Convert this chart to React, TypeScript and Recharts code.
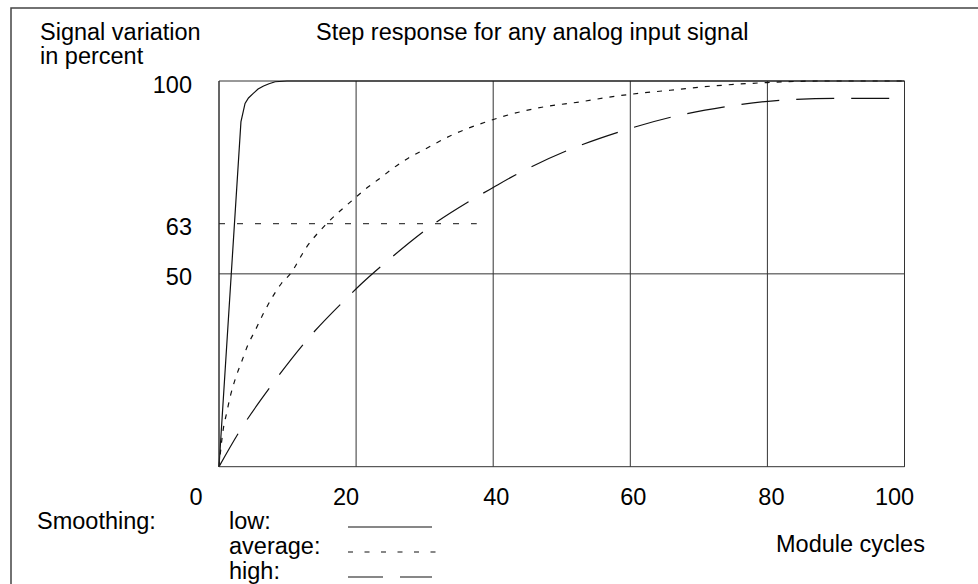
import { LineChart, Line, XAxis, YAxis, CartesianGrid, ReferenceLine } from 'recharts';

// step response readings (x = module cycles, y = percent)
const lowX = [0, 3.2, 3.8, 4.3, 5, 5.7, 6.5, 7.3, 8.2, 9.9, 100];
const lowY = [0, 89.4, 94.2, 95.6, 96.8, 97.9, 98.7, 99.3, 99.8, 100, 100];

const avgX = [0, 0.6, 1.1, 1.7, 2.4, 3.3, 4.2, 5.3, 6.5, 7.7, 9.1, 10.4, 12.8, 15.7, 19.6, 21.3, 23.5, 25.4, 27.6, 29.8, 34, 38.8, 43.7, 47.1, 52.7, 58, 62.9, 65.8, 72, 80, 88, 100];
const avgY = [0, 9.5, 13.8, 18.6, 22.9, 27.2, 31.5, 35.4, 39.8, 43.7, 47.5, 50, 57, 63, 69.3, 71.9, 74.8, 77.4, 80, 82.1, 86, 89.3, 91.9, 93.2, 94.6, 96.1, 97.1, 97.6, 98.7, 99.6, 100, 100];

const highX = [0, 2.9, 7.7, 12.9, 18.8, 20.7, 25, 31.8, 36.4, 40, 43.3, 50.7, 58.2, 65.9, 73.8, 81.8, 90, 100];
const highY = [0, 8.9, 21.2, 33, 44, 47.3, 54, 63.5, 68.7, 72.4, 75.7, 81.9, 86.7, 90.6, 93.3, 95, 95.5, 95.5];

// 63 % guide runs from 0 to about 37.6 cycles
const guideX = [0, 37.6];
const guideY = [63, 63];

const xTicks = [0, 20, 40, 60, 80, 100];
const yTicks = [50, 63, 100];

const legendLabels = ['low:', 'average:', 'high:'];

const toPoints = (xs: number[], ys: number[]) => xs.map((x, i) => ({ x, y: ys[i] }));

const lowData = toPoints(lowX, lowY);
const avgData = toPoints(avgX, avgY);
const highData = toPoints(highX, highY);
const guideData = toPoints(guideX, guideY);

const FONT = '"Liberation Sans", Arial, sans-serif';
const FS = 23.5;
const INK = '#111';
const GRID = '#333';

// the scanned labels sit a little off their grid lines
const xLabelNudge: Record<number, number> = { 0: -23, 20: -10, 40: 3, 60: 3, 80: 4, 100: -10 };

function XTick(props: any) {
  const { x, y, payload } = props;
  const v = payload.value as number;
  return (
    <text x={x + (xLabelNudge[v] ?? 0)} y={y + 38} textAnchor="middle" fontSize={FS} fontFamily={FONT} fill="#000">
      {v}
    </text>
  );
}

function YTick(props: any) {
  const { x, y, payload } = props;
  return (
    <text x={x} y={y + 11.5} textAnchor="end" fontSize={FS} fontFamily={FONT} fill="#000">
      {payload.value}
    </text>
  );
}

const legendDash = ['', '5 11.5', '35 17'];

export default function App() {
  return (
    <div
      style={{
        position: 'absolute',
        left: 0,
        top: 0,
        width: 978,
        height: 584,
        overflow: 'hidden',
        background: '#fff',
        fontFamily: FONT,
      }}
    >
      <LineChart width={978} height={584} margin={{ top: 81, right: 73.5, bottom: 77.3, left: 159 }}>
        <CartesianGrid horizontal={false} stroke={GRID} strokeWidth={1} />
        <XAxis
          type="number"
          dataKey="x"
          domain={[0, 100]}
          ticks={xTicks}
          height={40}
          tickSize={0}
          tickMargin={0}
          axisLine={{ stroke: GRID }}
          tickLine={false}
          tick={<XTick />}
        />
        <YAxis
          type="number"
          dataKey="y"
          domain={[0, 100]}
          ticks={yTicks}
          width={60}
          tickSize={0}
          tickMargin={27}
          axisLine={{ stroke: GRID }}
          tickLine={false}
          tick={<YTick />}
        />
        <ReferenceLine y={50} stroke={GRID} />
        <ReferenceLine y={100} stroke={GRID} />
        <ReferenceLine x={100} stroke={GRID} />
        <Line
          data={guideData}
          dataKey="y"
          type="linear"
          stroke={INK}
          strokeWidth={1}
          strokeDasharray="6 12"
          dot={false}
          isAnimationActive={false}
        />
        <Line
          data={lowData}
          dataKey="y"
          type="linear"
          stroke={INK}
          strokeWidth={1.2}
          dot={false}
          isAnimationActive={false}
        />
        <Line
          data={avgData}
          dataKey="y"
          type="monotone"
          stroke={INK}
          strokeWidth={1.2}
          strokeDasharray="5 7"
          dot={false}
          isAnimationActive={false}
        />
        <Line
          data={highData}
          dataKey="y"
          type="monotone"
          stroke={INK}
          strokeWidth={1.2}
          strokeDasharray="38 17"
          dot={false}
          isAnimationActive={false}
        />
      </LineChart>
      <svg
        width={978}
        height={584}
        style={{ position: 'absolute', left: 0, top: 0, pointerEvents: 'none' }}
        fontFamily={FONT}
        fontSize={FS}
      >
        <path d="M11 600 V8 H1000" fill="none" stroke="#444" strokeWidth={1.5} />
        <text x={40} y={40} fill="#000">Signal variation</text>
        <text x={40} y={64} fill="#000">in percent</text>
        <text x={316} y={40} fill="#000">Step response for any analog input signal</text>
        <text x={37} y={529} fill="#000">Smoothing:</text>
        {legendLabels.map((label, i) => (
          <g key={label}>
            <text x={229} y={529 + i * 25} fill="#000">{label}</text>
            <line
              x1={348}
              x2={i === 1 ? 436 : 432}
              y1={527 + i * 25}
              y2={527 + i * 25}
              stroke={INK}
              strokeWidth={1.2}
              strokeDasharray={legendDash[i] || undefined}
            />
          </g>
        ))}
        <text x={776} y={552} fill="#000">Module cycles</text>
      </svg>
    </div>
  );
}
